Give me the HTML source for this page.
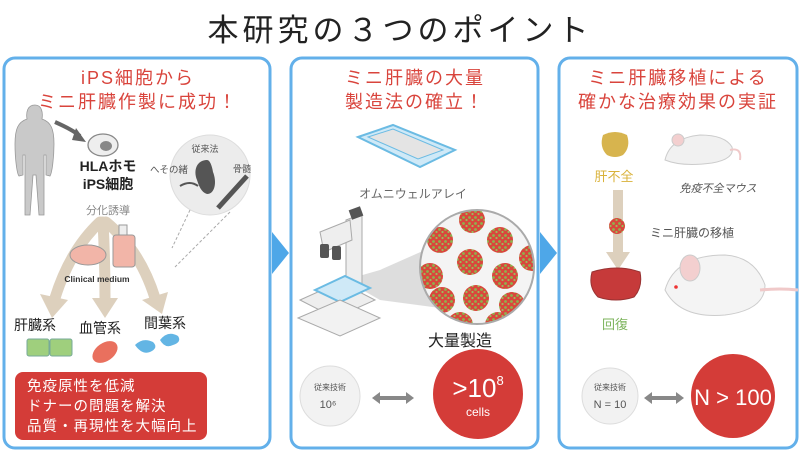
<!DOCTYPE html>
<html><head><meta charset="utf-8"><style>
body{margin:0;width:800px;height:453px;background:#fff;overflow:hidden}
svg{display:block}
text{font-family:"Liberation Sans","Noto Sans CJK JP",sans-serif}
</style></head><body>
<svg width="800" height="453" viewBox="0 0 800 453">
<defs>
<pattern id="dots" width="6" height="6" patternUnits="userSpaceOnUse">
<rect width="6" height="6" fill="#d9473c"/><circle cx="1.5" cy="1.5" r="1.4" fill="#8db34e"/><circle cx="4.5" cy="4" r="1.1" fill="#9bbd5a"/>
</pattern>
<clipPath id="zc"><circle cx="477" cy="267" r="57"/></clipPath>
</defs>
<text x="400" y="41" font-size="31" letter-spacing="4" text-anchor="middle" fill="#222">本研究の３つのポイント</text>
<!-- panels -->
<rect x="4" y="58" width="266" height="390" rx="11" fill="#fff" stroke="#63b0ea" stroke-width="3"/>
<rect x="291" y="58" width="247" height="390" rx="11" fill="#fff" stroke="#63b0ea" stroke-width="3"/>
<rect x="559" y="58" width="238" height="390" rx="11" fill="#fff" stroke="#63b0ea" stroke-width="3"/>
<polygon points="272,232 289,253 272,274" fill="#4ea7e8"/>
<polygon points="540,232 557,253 540,274" fill="#4ea7e8"/>

<!-- panel 1 -->
<g fill="#d9443c" font-size="18" letter-spacing="2" text-anchor="middle">
<text x="138" y="84">iPS細胞から</text>
<text x="138" y="108">ミニ肝臓作製に成功！</text>
</g>
<path d="M35 105c-8 0-9 8-8 14-9 3-12 10-12 25 0 15 2 30 4 32l4-1 0-20 2 0 0 60 5 0 3-40 3 0 3 40 5 0 0-60 2 0 0 20 4 1c2-3 4-18 4-32 0-15-3-22-12-25 1-6 0-14-7-14z" fill="#c9c9c9" stroke="#999" stroke-width="0.8"/>
<path d="M55 122q18 8 25 14" stroke="#666" stroke-width="4" fill="none"/><polygon points="76,128 86,142 72,140" fill="#666"/>
<ellipse cx="103" cy="145" rx="15" ry="11" fill="#eee" stroke="#888" stroke-width="1.3"/><ellipse cx="106" cy="146" rx="6" ry="5" fill="#888"/>
<g font-size="14" fill="#222" text-anchor="middle" font-weight="bold"><text x="108" y="171">HLAホモ</text><text x="108" y="189">iPS細胞</text></g>
<text x="108" y="214" font-size="11" fill="#888" text-anchor="middle">分化誘導</text>
<circle cx="210" cy="175" r="40" fill="#ececec" stroke="#ddd"/>
<text x="205" y="152" font-size="9" fill="#555" text-anchor="middle">従来法</text>
<text x="150" y="173" font-size="9.5" fill="#555">へその緒</text>
<text x="242" y="172" font-size="9" fill="#555" text-anchor="middle">骨髄</text>
<path d="M207 160c-10 0-14 10-10 20 2 6 4 12 10 14 8 0 10-12 6-22-1-6-3-12-6-12z" fill="#555"/>
<line x1="218" y1="208" x2="247" y2="176" stroke="#555" stroke-width="5"/>
<path d="M180 186q10-6 18 0" stroke="#555" stroke-width="2" fill="none"/>
<g stroke="#aaa" stroke-dasharray="3,2" fill="none"><path d="M190 210 L172 248"/><path d="M230 212 L175 267"/></g>
<!-- beige arrows -->
<g stroke="#ddd0bd" stroke-width="11" fill="none" stroke-linecap="round">
<path d="M100 222 Q70 250 55 298"/><path d="M103 222 Q105 260 105 298"/><path d="M106 222 Q140 250 155 298"/></g>
<g fill="#ddd0bd"><polygon points="40,294 68,300 52,318"/><polygon points="92,298 118,298 105,318"/><polygon points="142,300 168,292 162,314"/></g>
<ellipse cx="88" cy="255" rx="18" ry="10" fill="#f2b5a8" stroke="#999"/>
<rect x="113" y="235" width="22" height="32" rx="3" fill="#f2b5a8" stroke="#999"/><rect x="119" y="225" width="8" height="10" fill="#eee" stroke="#999"/>
<text x="97" y="282" font-size="8.5" font-weight="bold" fill="#333" text-anchor="middle">Clinical medium</text>
<g font-size="14" fill="#222" text-anchor="middle"><text x="35" y="330">肝臓系</text><text x="100" y="333">血管系</text><text x="165" y="328">間葉系</text></g>
<rect x="27" y="339" width="22" height="17" rx="2" fill="#9fcf7d" stroke="#7a9"/><rect x="50" y="339" width="22" height="17" rx="2" fill="#9fcf7d" stroke="#7a9"/>
<ellipse cx="105" cy="352" rx="14" ry="9" transform="rotate(-35 105 352)" fill="#e9705e"/>
<path d="M135 345q8-8 18-3q6 6-3 10q-8 3-15-7z M160 340q8-10 18-4q4 6-5 9q-8 4-13-5z" fill="#63b5e4"/>
<rect x="15" y="372" width="192" height="68" rx="8" fill="#d43c38"/>
<g font-size="14.5" fill="#fff" letter-spacing="1"><text x="27" y="391">免疫原性を低減</text><text x="27" y="411">ドナーの問題を解決</text><text x="27" y="431">品質・再現性を大幅向上</text></g>

<!-- panel 2 -->
<g fill="#d9443c" font-size="18" letter-spacing="2" text-anchor="middle"><text x="415" y="84">ミニ肝臓の大量</text><text x="415" y="108">製造法の確立！</text></g>
<polygon points="358,137 393,125 455,150 420,167" fill="#cfe9f7" stroke="#6bbbe3" stroke-width="2"/>
<polygon points="368,137 393,129 443,150 418,159" fill="#e4e4e4" stroke="#6bbbe3"/>
<text x="413" y="198" font-size="12" fill="#666" text-anchor="middle">オムニウェルアレイ</text>
<!-- microscope -->
<polygon points="345,280 380,270 470,230 470,312 380,300" fill="#d5d5d5" opacity="0.8"/>
<polygon points="346,220 362,214 362,300 346,305" fill="#eee" stroke="#aaa"/>
<polygon points="320,232 350,220 352,240 324,252" fill="#eee" stroke="#aaa"/>
<rect x="350" y="208" width="12" height="10" fill="#555" transform="rotate(-20 356 213)"/>
<rect x="320" y="244" width="9" height="14" rx="2" fill="#555"/><rect x="332" y="246" width="9" height="14" rx="2" fill="#555"/>
<polygon points="300,300 340,282 375,300 335,318" fill="#eee" stroke="#aaa"/>
<polygon points="315,290 345,276 370,288 340,302" fill="#cfe9f7" stroke="#6bbbe3" stroke-width="2"/>
<polygon points="298,318 340,300 380,318 340,336" fill="#f2f2f2" stroke="#aaa"/>
<circle cx="477" cy="267" r="57" fill="#f4f4f4"/>
<g clip-path="url(#zc)" fill="url(#dots)">
<circle cx="472" cy="220" r="13"/><circle cx="440" cy="240" r="13"/><circle cx="500" cy="240" r="13"/>
<circle cx="430" cy="276" r="13"/><circle cx="470" cy="262" r="13"/><circle cx="505" cy="276" r="13"/><circle cx="532" cy="258" r="13"/>
<circle cx="442" cy="300" r="13"/><circle cx="476" cy="298" r="13"/><circle cx="512" cy="305" r="13"/><circle cx="460" cy="325" r="13"/><circle cx="498" cy="325" r="13"/>
</g>
<circle cx="477" cy="267" r="57" fill="none" stroke="#aaa" stroke-width="2"/>
<text x="460" y="346" font-size="16" fill="#222" text-anchor="middle">大量製造</text>
<circle cx="330" cy="396" r="30" fill="#f2f2f2" stroke="#ddd"/>
<text x="330" y="390" font-size="8" fill="#555" text-anchor="middle">従来技術</text>
<text x="328" y="408" font-size="11" fill="#555" text-anchor="middle">10⁶</text>
<path d="M376 398h34" stroke="#888" stroke-width="4"/><polygon points="372,398 380,392 380,404" fill="#888"/><polygon points="414,398 406,392 406,404" fill="#888"/>
<circle cx="478" cy="394" r="45" fill="#d43c38"/>
<text x="478" y="397" font-size="26" fill="#fff" text-anchor="middle">&gt;10<tspan font-size="13" dy="-12">8</tspan></text>
<text x="478" y="416" font-size="12" fill="#fff" text-anchor="middle">cells</text>

<!-- panel 3 -->
<g fill="#d9443c" font-size="18" letter-spacing="2" text-anchor="middle"><text x="678" y="84">ミニ肝臓移植による</text><text x="678" y="108">確かな治療効果の実証</text></g>
<path d="M603 135q12-6 24 0q4 12-4 20q-8 4-16 0q-8-8-4-20z" fill="#d7b44e"/>
<text x="614" y="181" font-size="13" fill="#d9b23a" text-anchor="middle">肝不全</text>
<path d="M665 160q5-22 35-25q25 0 32 12q3 12-20 16q-30 4-47-3z" fill="#f1f1f1" stroke="#ccc"/>
<path d="M730 150q12-3 10 10" stroke="#f0c9c9" stroke-width="2" fill="none"/>
<circle cx="678" cy="140" r="6" fill="#f3cfcf" stroke="#ccc"/>
<text x="718" y="192" font-size="11" fill="#555" text-anchor="middle" font-style="italic">免疫不全マウス</text>
<polygon points="613,190 623,190 623,252 630,252 618,270 606,252 613,252" fill="#ddd0bd"/>
<circle cx="617" cy="226" r="8" fill="url(#dots)"/>
<text x="650" y="237" font-size="12" fill="#555">ミニ肝臓の移植</text>
<path d="M592 272q25-8 48 0q3 15-6 25q-18 6-36 0q-10-10-6-25z" fill="#c63a3a" stroke="#933"/>
<text x="615" y="329" font-size="13" fill="#7bb35a" text-anchor="middle">回復</text>
<path d="M665 290q10-35 60-35q30 2 40 30q0 25-40 30q-45 4-60-25z" fill="#f4f4f4" stroke="#ccc"/>
<path d="M760 290q20-2 38 0" stroke="#f0c9c9" stroke-width="3" fill="none"/>
<ellipse cx="690" cy="268" rx="10" ry="13" fill="#f3cfcf" stroke="#ccc"/>
<circle cx="676" cy="287" r="1.8" fill="#e33"/>
<circle cx="610" cy="396" r="28" fill="#f2f2f2" stroke="#ddd"/>
<text x="610" y="390" font-size="8" fill="#555" text-anchor="middle">従来技術</text>
<text x="610" y="408" font-size="11" fill="#555" text-anchor="middle">N = 10</text>
<path d="M648 398h32" stroke="#888" stroke-width="4"/><polygon points="644,398 652,392 652,404" fill="#888"/><polygon points="684,398 676,392 676,404" fill="#888"/>
<circle cx="733" cy="396" r="42" fill="#d43c38"/>
<text x="733" y="405" font-size="22" fill="#fff" text-anchor="middle">N &gt; 100</text>
</svg>
</body></html>
